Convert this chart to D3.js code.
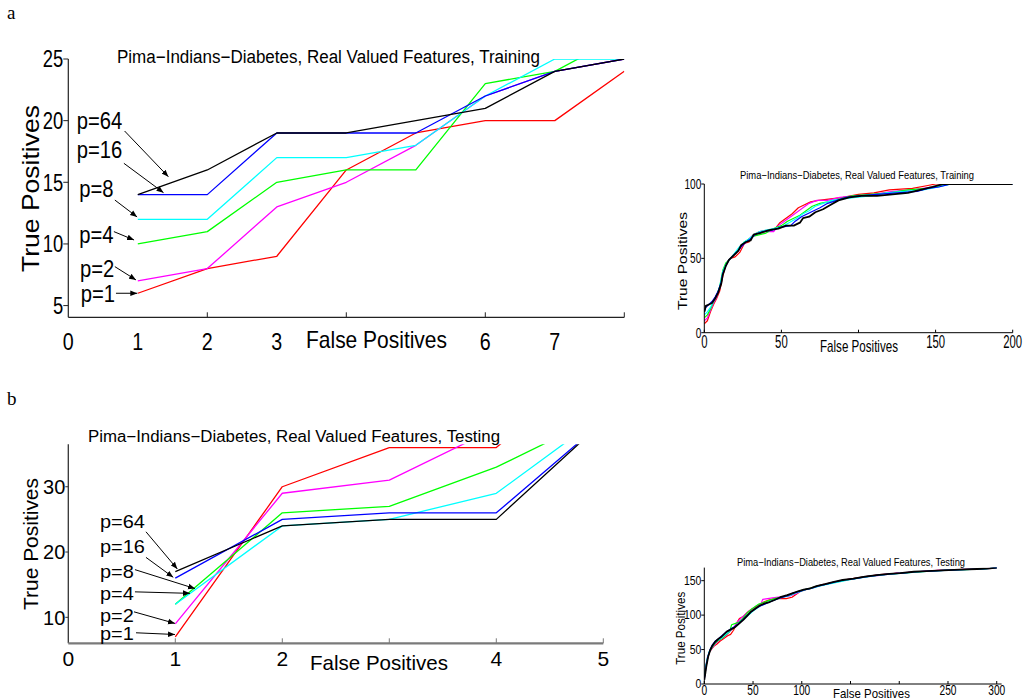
<!DOCTYPE html>
<html><head><meta charset="utf-8">
<script src="https://cdn.jsdelivr.net/npm/d3@7"></script>
<style>html,body{margin:0;padding:0;background:#fff;}svg{display:block;}</style>
</head><body>
<svg id="chart" width="1023" height="700"></svg>
<script>
// ---------------- DATA ----------------
const seriesNames = ["p=1", "p=2", "p=4", "p=8", "p=16", "p=64"];
const seriesColors = ["#ff0000", "#ff00ff", "#00ff00", "#00ffff", "#0000ff", "#000000"];

// Panel a (zoomed, training)
const trainFP = [1, 2, 3, 4, 5, 6, 7, 8];
const trainP1 = [6, 8, 9, 16, 19, 20, 20, 24];
const trainP2 = [7, 8, 13, 15, 18, 22, 24, 25];
const trainP4 = [10, 11, 15, 16, 16, 23, 24, 27];
const trainP8 = [12, 12, 17, 17, 18, 22, 25, 25];
const trainP16 = [14, 14, 19, 19, 19, 22, 24, 25];
const trainP64 = [14, 16, 19, 19, 20, 21, 24, 25];
const trainYTicks = [5, 10, 15, 20, 25];
const trainXTickMarks = [2, 4, 6, 8];
const trainXTickLabels = [0, 1, 2, 3, 6, 7];

// Panel b (zoomed, testing)
const testFP = [1, 2, 3, 4, 5];
const testP1 = [7, 30, 36, 36, 50];
const testP2 = [9, 29, 31, 39, 45];
const testP4 = [12, 26, 27, 33, 41];
const testP8 = [12, 24, 25, 29, 41];
const testP16 = [16, 25, 26, 26, 40];
const testP64 = [17, 24, 25, 25, 40];
const testYTicks = [10, 20, 30];
const testXTickMarks = [1, 2, 3, 4, 5];
const testXTickLabels = [0, 1, 2, 4, 5];

// Annotation arrows (label position, arrow start, arrow end) in data units
const trainLabelPos = [[0.178, 5.32], [0.168, 7.32], [0.158, 10.05], [0.158, 13.83], [0.12, 16.95], [0.12, 19.3]];
const trainArrowFrom = [[0.686, 6.0], [0.67, 8.16], [0.656, 11.0], [0.67, 13.56], [0.80, 16.54], [0.81, 19.16]];
const trainArrowTo = [[0.993, 6.0], [0.974, 7.08], [0.946, 10.32], [0.99, 12.19], [1.37, 14.16], [1.44, 15.45]];
const testLabelPos = [[0.296, 6.52], [0.296, 9.33], [0.296, 12.65], [0.296, 15.97], [0.296, 19.9], [0.296, 23.63]];
const testArrowFrom = [[0.633, 7.63], [0.614, 10.84], [0.623, 13.9], [0.623, 17.3], [0.726, 19.18], [0.726, 23.1]];
const testArrowTo = [[0.997, 7.37], [0.997, 9.07], [1.137, 13.67], [1.184, 14.4], [0.981, 16.12], [1.019, 17.4]];

// Full ROC curves, training (FP, TP)
const rocTrainP1 = [[0,6],[2,8],[4,14],[6,19],[8,23],[10,28],[12,38],[14,46],[17,50],[20,51],[23,54],[26,60],[29,61],[32,66],[36,68],[41,69],[46,70],[49,74],[53,77],[57,80],[61,84],[65,86],[69,88],[74,89],[82,90],[90,91],[100,93],[110,94],[120,96],[135,97],[145,99],[150,100],[200,100]];
const rocTrainP2 = [[0,8],[2,10],[4,15],[6,20],[8,24],[10,30],[12,40],[14,46],[16,49],[19,52],[22,55],[25,59],[28,62],[31,65],[35,67],[40,68],[45,68],[48,72],[52,75],[56,78],[60,81],[64,84],[68,87],[73,89],[80,89],[88,91],[98,92],[110,93],[122,95],[135,96],[148,98],[158,100],[200,100]];
const rocTrainP4 = [[0,10],[2,12],[4,16],[6,21],[8,25],[10,31],[12,42],[14,47],[17,50],[20,53],[23,57],[26,61],[29,63],[32,65],[36,66],[40,67],[45,70],[50,72],[54,75],[58,77],[62,79],[66,82],[70,85],[75,87],[80,88],[88,90],[96,92],[108,93],[120,94],[132,96],[145,97],[155,99],[160,100],[200,100]];
const rocTrainP8 = [[0,12],[2,14],[4,17],[6,21],[8,25],[10,31],[12,41],[14,46],[17,50],[20,54],[23,58],[26,61],[29,63],[32,66],[36,68],[40,69],[45,70],[50,71],[55,74],[60,77],[64,80],[68,82],[72,85],[77,87],[83,89],[90,90],[98,91],[108,92],[118,94],[130,95],[142,96],[152,98],[160,100],[200,100]];
const rocTrainP16 = [[0,14],[1,17],[3,19],[5,21],[7,24],[9,28],[11,34],[12,40],[14,45],[16,49],[19,52],[22,55],[24,58],[27,61],[30,63],[33,66],[38,68],[44,69],[50,71],[56,72],[59,75],[63,78],[67,80],[71,82],[75,84],[80,87],[86,89],[92,91],[100,92],[112,93],[125,94],[138,95],[145,97],[152,98],[160,100],[200,100]];
const rocTrainP64 = [[0,14],[1,18],[3,19],[5,20],[7,23],[9,27],[11,33],[12,39],[14,45],[16,49],[19,52],[22,55],[24,59],[27,61],[30,62],[32,66],[36,67],[42,69],[48,70],[53,72],[58,72],[62,74],[64,77],[68,78],[72,81],[77,83],[82,86],[87,89],[94,91],[102,92],[112,92],[122,93],[132,94],[140,96],[148,98],[155,100],[200,100]];
const rocTrainYTicks = [0, 50, 100];
const rocTrainXTickMarks = [0, 50, 100, 150, 200];
const rocTrainXTickLabels = [0, 50, 150, 200];

// Full ROC curves, testing (FP, TP)
const rocTestP1 = [[0,8],[1,20],[3,35],[5,45],[7,50],[10,55],[13,58],[16,62],[20,66],[24,70],[27,72],[30,78],[33,88],[36,95],[40,98],[44,104],[48,108],[52,111],[56,115],[61,119],[66,122],[72,124],[78,124],[84,124],[90,126],[94,130],[98,134],[104,137],[112,140],[120,144],[130,147],[140,150],[152,153],[165,156],[180,159],[200,161],[220,163],[240,165],[260,166],[280,167],[295,168],[300,169]];
const rocTestP2 = [[0,10],[1,22],[3,38],[5,46],[8,52],[11,58],[14,62],[18,66],[22,70],[26,76],[30,82],[34,90],[38,96],[42,101],[46,106],[50,110],[54,114],[58,116],[60,123],[65,124],[70,125],[76,126],[82,127],[88,128],[94,131],[99,135],[106,138],[114,141],[122,144],[132,147],[142,150],[154,153],[168,156],[182,158],[198,161],[218,163],[240,165],[262,166],[284,167],[300,169]];
const rocTestP4 = [[0,9],[1,21],[3,36],[5,46],[8,53],[11,59],[14,63],[18,66],[22,71],[26,76],[28,86],[32,88],[36,90],[40,96],[44,103],[48,108],[52,112],[56,116],[60,118],[66,121],[72,124],[78,126],[84,127],[90,130],[95,134],[100,136],[108,139],[116,142],[125,145],[135,148],[146,151],[158,154],[172,157],[186,159],[202,161],[222,163],[244,165],[266,166],[286,167],[300,169]];
const rocTestP8 = [[0,10],[1,22],[3,37],[5,47],[8,54],[11,60],[14,64],[18,67],[22,72],[26,77],[30,82],[34,86],[38,91],[42,96],[46,101],[50,106],[54,110],[58,114],[63,117],[68,120],[74,123],[80,126],[86,128],[92,131],[98,134],[104,137],[111,139],[118,142],[127,145],[137,148],[148,151],[160,154],[174,157],[188,159],[204,161],[224,163],[246,165],[268,166],[288,167],[300,169]];
const rocTestP16 = [[0,7],[1,17],[2,27],[4,41],[6,50],[8,56],[11,62],[14,65],[18,70],[23,76],[27,80],[31,83],[36,89],[40,94],[44,100],[48,105],[53,110],[57,113],[62,116],[67,119],[72,122],[78,125],[85,128],[91,132],[97,134],[103,137],[110,139],[116,142],[125,145],[133,148],[143,151],[154,153],[166,156],[178,158],[191,160],[203,161],[216,163],[230,164],[246,165],[263,166],[281,167],[294,168],[300,169]];
const rocTestP64 = [[0,6],[1,15],[2,25],[4,40],[6,49],[8,55],[11,61],[14,65],[18,69],[23,76],[27,79],[31,82],[36,88],[40,93],[44,99],[48,105],[53,110],[57,114],[62,117],[67,119],[72,122],[78,126],[85,129],[91,132],[97,135],[102,137],[109,139],[115,142],[124,145],[132,148],[142,151],[153,153],[165,156],[177,158],[190,160],[201,161],[215,163],[228,164],[245,165],[262,166],[280,167],[293,168],[300,169]];
const rocTestYTicks = [0, 50, 100, 150];
const rocTestXTickMarks = [0, 50, 100, 150, 200, 250, 300];
const rocTestXTickLabels = [0, 50, 100, 250, 300];

const trainTitle = "Pima\u2212Indians\u2212Diabetes, Real Valued Features, Training";
const testTitle = "Pima\u2212Indians\u2212Diabetes, Real Valued Features, Testing";

// ---------------- DRAWING ----------------
const svg = d3.select("#chart");
const SANS = "'Liberation Sans', Arial, Helvetica, sans-serif";

svg.append("defs").append("marker")
  .attr("id", "arrow").attr("viewBox", "0 0 10 10").attr("refX", 10).attr("refY", 5)
  .attr("markerWidth", 7).attr("markerHeight", 7).attr("markerUnits", "userSpaceOnUse")
  .attr("orient", "auto")
  .append("path").attr("d", "M0,1 L10,5 L0,9 z").attr("fill", "#000");

function addText(g, x, y, str, o) {
  let tr = `translate(${x},${y})`;
  if (o.rotate) tr += ` rotate(${o.rotate})`;
  if (o.sx) tr += ` scale(${o.sx},1)`;
  const t = g.append("text").attr("transform", tr)
    .attr("text-anchor", o.anchor || "start")
    .attr("font-size", o.size)
    .attr("font-family", o.family || SANS)
    .attr("fill", "#000")
    .text(str);
  if (o.len) t.attr("textLength", o.len).attr("lengthAdjust", "spacingAndGlyphs");
  return t;
}

let clipId = 0;
function panel(cfg) {
  const g = svg.append("g");
  const x = d3.scaleLinear().domain(cfg.xDomain).range(cfg.xRange);
  const y = d3.scaleLinear().domain(cfg.yDomain).range(cfg.yRange);
  const id = "clip" + (clipId++);
  svg.select("defs").append("clipPath").attr("id", id).append("rect")
    .attr("x", x.range()[0]).attr("y", y.range()[1])
    .attr("width", x.range()[1] - x.range()[0]).attr("height", y.range()[0] - y.range()[1]);

  // series
  const line = d3.line().x(d => x(d[0])).y(d => y(d[1]));
  const lg = g.append("g").attr("clip-path", `url(#${id})`);
  cfg.series.forEach((s, i) => {
    lg.append("path").datum(s).attr("d", line)
      .attr("fill", "none").attr("stroke", seriesColors[i])
      .attr("stroke-width", (cfg.blackWidth && i === 5) ? cfg.blackWidth : cfg.lineWidth)
      .attr("stroke-linejoin", "round");
  });

  // axes
  const x0 = x.range()[0], x1 = x.range()[1], yb = y.range()[0], yt = y.range()[1];
  g.append("line").attr("x1", x0).attr("x2", x0).attr("y1", yt).attr("y2", yb)
    .attr("stroke", cfg.yAxisColor || "#000").attr("stroke-width", cfg.yAxisWidth || 1);
  g.append("line").attr("x1", x0).attr("x2", x1).attr("y1", yb).attr("y2", yb)
    .attr("stroke", cfg.xAxisColor || "#000").attr("stroke-width", cfg.xAxisWidth || 1);
  cfg.yTicks.forEach(v => {
    g.append("line").attr("x1", x0 - cfg.yTickLen).attr("x2", x0).attr("y1", y(v)).attr("y2", y(v))
      .attr("stroke", cfg.yAxisColor || "#000").attr("stroke-width", 1);
    addText(g, x0 - cfg.yTickLen - cfg.yLabelGap, y(v) + cfg.yLabelSize * 0.36, String(v),
      { size: cfg.yLabelSize, anchor: "end", sx: cfg.yLabelSx });
  });
  cfg.xTickMarks.forEach(v => {
    g.append("line").attr("x1", x(v)).attr("x2", x(v)).attr("y1", yb).attr("y2", yb - cfg.xTickLen)
      .attr("stroke", cfg.xAxisColor || "#000").attr("stroke-width", 1);
  });
  cfg.xTickLabels.forEach(v => {
    addText(g, x(v), cfg.xLabelBaseline, String(v), { size: cfg.xLabelSize, anchor: "middle", sx: cfg.xLabelSx });
  });
  // titles
  addText(g, cfg.title.x, cfg.title.y, cfg.title.text, { size: cfg.title.size, len: cfg.title.len });
  addText(g, cfg.xTitle.x, cfg.xTitle.y, "False Positives", { size: cfg.xTitle.size, anchor: "middle", len: cfg.xTitle.len });
  addText(g, cfg.yTitle.x, cfg.yTitle.y, "True Positives", { size: cfg.yTitle.size, anchor: "middle", rotate: -90, len: cfg.yTitle.len });

  // annotations
  if (cfg.labels) {
    cfg.labels.forEach((p, i) => {
      addText(g, x(p[0]), y(p[1]), seriesNames[i], { size: cfg.pSize, sx: cfg.pSx });
      g.append("line")
        .attr("x1", x(cfg.arrowFrom[i][0])).attr("y1", y(cfg.arrowFrom[i][1]))
        .attr("x2", x(cfg.arrowTo[i][0])).attr("y2", y(cfg.arrowTo[i][1]))
        .attr("stroke", "#000").attr("stroke-width", 1).attr("marker-end", "url(#arrow)");
    });
  }
}

const zipXY = (xs, ys) => xs.map((v, i) => [v, ys[i]]);

// Panel a - left
panel({
  xDomain: [0, 8], xRange: [68.3, 624.3], yDomain: [4.05, 25], yRange: [317.3, 59],
  series: [trainP1, trainP2, trainP4, trainP8, trainP16, trainP64].map(s => zipXY(trainFP, s)),
  lineWidth: 1.3, yAxisColor: "#222", xAxisColor: "#222", xAxisWidth: 1.2, yAxisWidth: 1.2,
  yTicks: trainYTicks, yTickLen: 5, yLabelGap: 0, yLabelSize: 23, yLabelSx: 0.8,
  xTickMarks: trainXTickMarks, xTickLen: 5, xTickLabels: trainXTickLabels,
  xLabelBaseline: 350, xLabelSize: 24, xLabelSx: 0.82,
  title: { text: trainTitle, x: 117, y: 63, size: 18, len: 423 },
  xTitle: { x: 376.5, y: 348, size: 24, len: 141 },
  yTitle: { x: 39, y: 188.5, size: 24, len: 167 },
  labels: trainLabelPos, arrowFrom: trainArrowFrom, arrowTo: trainArrowTo, pSize: 23, pSx: 0.88
});

// Panel b - left
panel({
  xDomain: [0, 5], xRange: [68.3, 603.3], yDomain: [6.02, 36.5], yRange: [643.3, 444.3],
  series: [testP1, testP2, testP4, testP8, testP16, testP64].map(s => zipXY(testFP, s)),
  lineWidth: 1.3, yAxisColor: "#333", xAxisColor: "#7a7a7a", xAxisWidth: 2.2, yAxisWidth: 1.3,
  yTicks: testYTicks, yTickLen: 3, yLabelGap: 0, yLabelSize: 20, yLabelSx: 1,
  xTickMarks: testXTickMarks, xTickLen: 5, xTickLabels: testXTickLabels,
  xLabelBaseline: 666, xLabelSize: 21, xLabelSx: 1,
  title: { text: testTitle, x: 88, y: 442, size: 16, len: 412 },
  xTitle: { x: 379, y: 670, size: 21, len: 138 },
  yTitle: { x: 38, y: 544, size: 21, len: 132 },
  labels: testLabelPos, arrowFrom: testArrowFrom, arrowTo: testArrowTo, pSize: 19, pSx: 1.05
});

// Panel a - right (full ROC, training)
panel({
  xDomain: [0, 200], xRange: [704.3, 1012.7], yDomain: [0, 100], yRange: [332.7, 184],
  series: [rocTrainP1, rocTrainP2, rocTrainP4, rocTrainP8, rocTrainP16, rocTrainP64],
  lineWidth: 1.2, blackWidth: 1.8,
  yTicks: rocTrainYTicks, yTickLen: 3, yLabelGap: 0, yLabelSize: 14, yLabelSx: 0.72,
  xTickMarks: rocTrainXTickMarks, xTickLen: 3, xTickLabels: rocTrainXTickLabels,
  xLabelBaseline: 348, xLabelSize: 18, xLabelSx: 0.63,
  title: { text: trainTitle, x: 740, y: 179, size: 11.5, len: 234 },
  xTitle: { x: 859, y: 352, size: 17, len: 78 },
  yTitle: { x: 687, y: 261, size: 13, len: 98 }
});

// Panel b - right (full ROC, testing)
panel({
  xDomain: [0, 305], xRange: [704.3, 1001.6], yDomain: [0, 169], yRange: [684, 567.6],
  series: [rocTestP1, rocTestP2, rocTestP4, rocTestP8, rocTestP16, rocTestP64],
  lineWidth: 1.2, blackWidth: 1.8,
  yTicks: rocTestYTicks, yTickLen: 3, yLabelGap: 0, yLabelSize: 12, yLabelSx: 0.87,
  xTickMarks: rocTestXTickMarks, xTickLen: 3, xTickLabels: rocTestXTickLabels,
  xLabelBaseline: 695, xLabelSize: 15, xLabelSx: 0.68,
  title: { text: testTitle, x: 737, y: 566, size: 10.5, len: 228 },
  xTitle: { x: 871.4, y: 698, size: 13, len: 77 },
  yTitle: { x: 685, y: 628.3, size: 12, len: 73 }
});

// panel letters
addText(svg, 7, 18.5, "a", { size: 19, family: "'Liberation Serif', 'DejaVu Serif', serif" });
addText(svg, 7, 405, "b", { size: 19, family: "'Liberation Serif', 'DejaVu Serif', serif" });
</script>
</body></html>
